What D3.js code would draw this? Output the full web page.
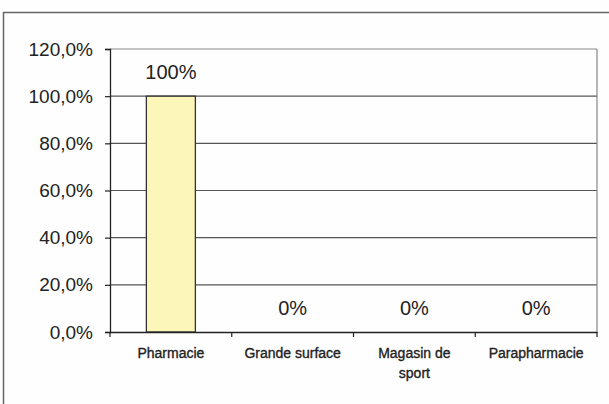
<!DOCTYPE html>
<html><head><meta charset="utf-8">
<script src="https://cdn.jsdelivr.net/npm/d3@7"></script>
<style>body{margin:0;background:#fff}svg{display:block}</style>
</head><body>
<script>
const categories = [["Pharmacie"], ["Grande surface"], ["Magasin de", "sport"], ["Parapharmacie"]];
const values = [1.0, 0, 0, 0];
const valueLabels = ["100%", "0%", "0%", "0%"];
const yTicks = [0, 0.2, 0.4, 0.6, 0.8, 1.0, 1.2];

(function() {
const W = 609, H = 404;
const FONT = "Arial, 'Liberation Sans', sans-serif";
const svg = d3.select("body").append("svg").attr("width", W).attr("height", H);
svg.append("rect").attr("width", W).attr("height", H).attr("fill", "#fefefe");
// outer frame
svg.append("rect").attr("x", 3.5).attr("y", 12.5).attr("width", 620).attr("height", 420)
  .attr("fill", "none").attr("stroke", "#666").attr("stroke-width", 1.5);

const pL = 110, pR = 597, pT = 49, pB = 332;
const xb = d3.scaleBand().domain(d3.range(categories.length)).range([pL, pR]);
const y = d3.scaleLinear().domain([0, 1.2]).range([pB, pT]);

// gridlines
svg.append("g").selectAll("line").data(yTicks.filter(t => t > 0)).join("line")
  .attr("x1", pL).attr("x2", pR).attr("y1", d => y(d)).attr("y2", d => y(d))
  .attr("stroke", d => d === 1.2 ? "#888" : "#555").attr("stroke-width", 1.2);
// right border
svg.append("line").attr("x1", pR).attr("x2", pR).attr("y1", pT).attr("y2", pB)
  .attr("stroke", "#888").attr("stroke-width", 1.2);

// bars
svg.append("g").selectAll("rect").data(values).join("rect")
  .attr("x", (d, i) => xb(i) + xb.bandwidth() / 2 - 24.5)
  .attr("width", 49)
  .attr("y", d => y(d)).attr("height", d => pB - y(d))
  .attr("fill", "#fcf6b8").attr("stroke", "#333").attr("stroke-width", 1.3);

// y axis
const yAxis = d3.axisLeft(y).tickValues(yTicks).tickSize(5).tickPadding(12)
  .tickFormat(d => d3.format(".1f")(d * 100).replace(".", ",") + "%");
const gy = svg.append("g").attr("transform", `translate(${pL},0)`).call(yAxis);
gy.select(".domain").attr("stroke", "#222").attr("stroke-width", 1.3);
gy.selectAll(".tick line").attr("stroke", "#222").attr("stroke-width", 1.2);
gy.selectAll("text").attr("font-family", FONT).attr("font-size", 19).attr("fill", "#222");

// x axis
const xAxis = d3.axisBottom(xb).tickSize(0).tickFormat("");
const gx = svg.append("g").attr("transform", `translate(0,${pB})`).call(xAxis);
gx.select(".domain").attr("stroke", "#222").attr("stroke-width", 1.3);
gx.selectAll(".tick").remove();
svg.append("g").selectAll("line").data(d3.range(categories.length + 1)).join("line")
  .attr("x1", i => pL + i * xb.step()).attr("x2", i => pL + i * xb.step())
  .attr("y1", pB).attr("y2", pB + 5).attr("stroke", "#222").attr("stroke-width", 1.2);

// category labels
const cl = svg.append("g").selectAll("text").data(categories).join("text")
  .attr("x", (d, i) => xb(i) + xb.bandwidth() / 2).attr("y", 358)
  .attr("text-anchor", "middle").attr("font-family", FONT)
  .attr("font-size", 14).attr("fill", "#222").attr("stroke", "#222").attr("stroke-width", 0.35);
cl.each(function(d) {
  const sx = d3.select(this).attr("x");
  d3.select(this).selectAll("tspan").data(d).join("tspan")
    .attr("x", sx).attr("dy", (t, j) => j === 0 ? 0 : 20).text(t => t);
});

// value labels
svg.append("g").selectAll("text").data(values).join("text")
  .attr("x", (d, i) => xb(i) + xb.bandwidth() / 2)
  .attr("y", d => y(d) - 17)
  .attr("text-anchor", "middle").attr("font-family", FONT)
  .attr("font-size", 20).attr("fill", "#222")
  .text((d, i) => valueLabels[i]);
})();
</script>
</body></html>
